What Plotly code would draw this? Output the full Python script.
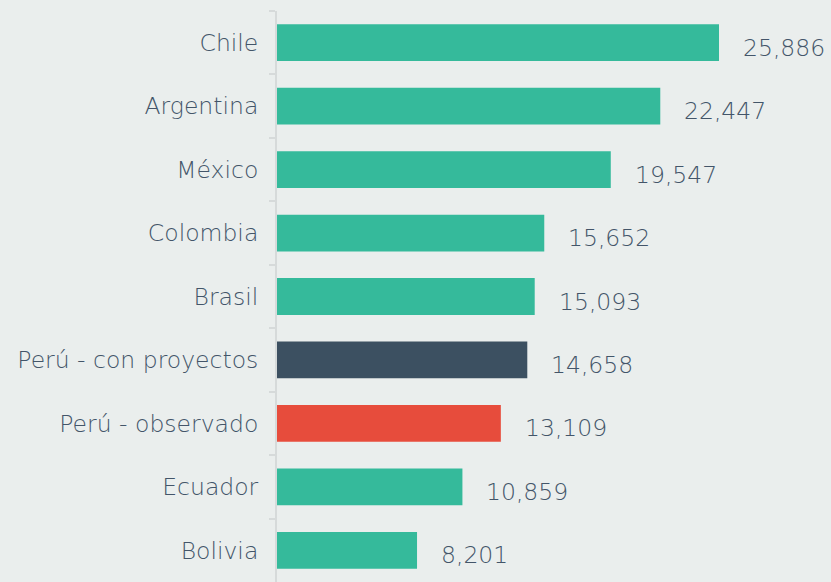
import plotly.graph_objects as go

categories = ["Chile", "Argentina", "México", "Colombia", "Brasil",
              "Perú - con proyectos", "Perú - observado", "Ecuador", "Bolivia"]
values = [25886, 22447, 19547, 15652, 15093, 14658, 13109, 10859, 8201]
bar_colors = ["#35BA9B", "#35BA9B", "#35BA9B", "#35BA9B", "#35BA9B",
              "#3C5061", "#E74C3C", "#35BA9B", "#35BA9B"]

BG = "#EAEEED"
TEXT = "#435569"
FONT = "DejaVu Sans"

fig = go.Figure(go.Bar(
    x=values, y=categories, orientation="h",
    marker=dict(color=bar_colors, line=dict(width=0)),
    width=0.58, hoverinfo="skip",
))

for c, v in zip(categories, values):
    fig.add_annotation(x=v, y=c, text=f"{v:,}", showarrow=False,
                       xanchor="left", yanchor="middle", xshift=22, yshift=-5,
                       font=dict(family=FONT, size=23.5, color=TEXT, weight=300))

fig.update_layout(
    width=831, height=582,
    margin=dict(l=277, r=0, t=11, b=0),
    paper_bgcolor=BG, plot_bgcolor=BG,
    showlegend=False,
    xaxis=dict(range=[0, 32445], visible=False, fixedrange=True),
    yaxis=dict(autorange="reversed", categoryorder="array", categoryarray=categories,
               showline=True, linecolor="#D6DADA", linewidth=2,
               ticks="outside", tickson="boundaries", ticklen=6, tickcolor="#D6DADA",
               tickwidth=2, showgrid=False, ticklabelstandoff=12,
               tickfont=dict(family=FONT, size=23.5, color=TEXT, weight=300)),
)

fig.write_html("out.html", config={"displayModeBar": False},
               post_script="document.body.style.margin='0';document.body.style.overflow='hidden';")
